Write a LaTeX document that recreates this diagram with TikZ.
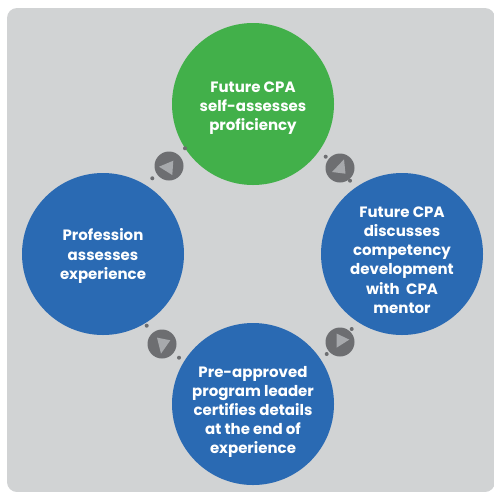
\documentclass[tikz,border=0pt]{standalone}
\usepackage{fontspec}
\setmainfont{Poppins}
\definecolor{bg}{RGB}{209,211,212}
\definecolor{cgreen}{RGB}{66,176,74}
\definecolor{cblue}{RGB}{42,106,179}
\definecolor{adark}{RGB}{109,110,113}
\definecolor{alight}{RGB}{167,169,172}
\begin{document}
\begin{tikzpicture}[x=1pt,y=-1pt,
  stage/.style={circle, minimum size=162pt, inner sep=0pt},
  stagetext/.style={text=white, align=center, inner sep=0pt,
    font=\fontsize{15}{19.2}\selectfont\bfseries},
  arrowc/.style={circle, fill=adark, minimum size=29pt, inner sep=0pt},
  tri/.style={fill=alight},
  dotm/.style={fill=adark}]
\useasboundingbox (0,0) rectangle (494,491);
\fill[bg, rounded corners=10pt] (7,8) rectangle (495,492);
\node[stage, fill=cgreen] (green) at (253,104) {};
\node[stage, fill=cblue] (right) at (402,254) {};
\node[stage, fill=cblue] (bottom) at (253,404) {};
\node[stage, fill=cblue] (left) at (103,254) {};
\node[stagetext] (greent) at ([yshift=-4pt]green.center) {Future CPA\\self-assesses\\proficiency};
\node[stagetext] (rightt) at ([yshift=-6pt]right.center) {Future CPA\\discusses\\competency\\development\\with\ \ CPA\\mentor};
\node[stagetext] (bottomt) at ([yshift=-8pt]bottom.center) {Pre-approved\\program leader\\certifies details\\at the end of\\experience};
\node[stagetext] (leftt) at ([yshift=-2pt]left.center) {Profession\\assesses\\experience};
% arrow markers
\node[arrowc] (a1) at (169,166) {};
\node[arrowc] (a2) at (340,168) {};
\node[arrowc] (a3) at (340,342) {};
\node[arrowc] (a4) at (162,344) {};
\fill[tri, shift={(a1.center)}] (-10,0.7) -- (4.3,-5.3) -- (3.3,9) -- cycle;
\fill[tri, shift={(a2.center)}] (-8,4) -- (4,-8.7) -- (5.5,5.7) -- cycle;
\fill[tri, shift={(a3.center)}] (-3.3,-8.4) -- (-3.3,5.6) -- (9.3,-2.4) -- cycle;
\fill[tri, shift={(a4.center)}] (-5,-6.4) -- (8.3,-3.7) -- (-1,9.6) -- cycle;
% dots
\fill[dotm] (185,148.3) circle (2pt);
\fill[dotm] (152.3,178.3) circle (2pt);
\fill[dotm] (325.7,156.7) circle (2pt);
\fill[dotm] (350,180.7) circle (2pt);
\fill[dotm] (351.7,329) circle (2pt);
\fill[dotm] (326.7,354) circle (2pt);
\fill[dotm] (146.7,325.7) circle (2pt);
\fill[dotm] (179,357.7) circle (2pt);
\end{tikzpicture}
\end{document}
